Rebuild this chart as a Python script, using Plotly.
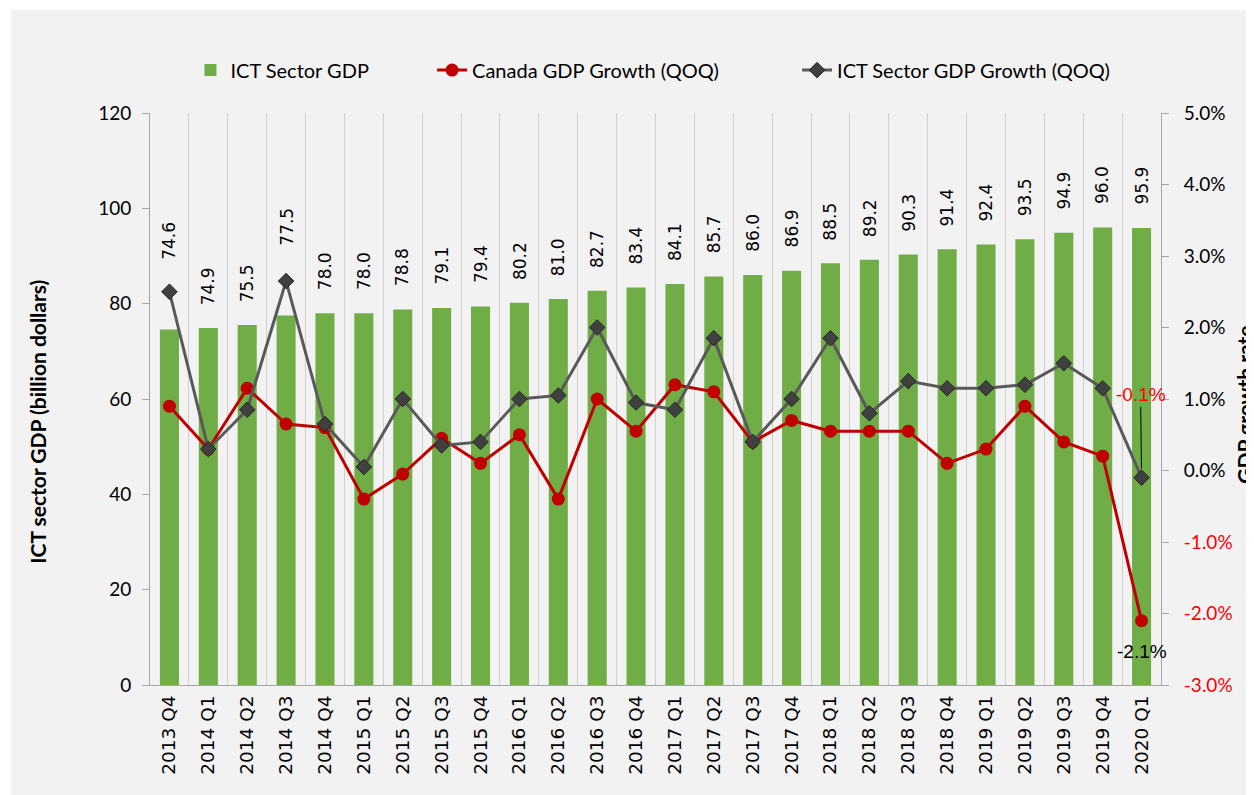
import plotly.graph_objects as go

quarters = ["2013 Q4", "2014 Q1", "2014 Q2", "2014 Q3", "2014 Q4", "2015 Q1", "2015 Q2",
            "2015 Q3", "2015 Q4", "2016 Q1", "2016 Q2", "2016 Q3", "2016 Q4", "2017 Q1",
            "2017 Q2", "2017 Q3", "2017 Q4", "2018 Q1", "2018 Q2", "2018 Q3", "2018 Q4",
            "2019 Q1", "2019 Q2", "2019 Q3", "2019 Q4", "2020 Q1"]

ict_gdp = [74.6, 74.9, 75.5, 77.5, 78.0, 78.0, 78.8, 79.1, 79.4, 80.2, 81.0, 82.7, 83.4,
           84.1, 85.7, 86.0, 86.9, 88.5, 89.2, 90.3, 91.4, 92.4, 93.5, 94.9, 96.0, 95.9]

canada_growth = [0.9, 0.3, 1.15, 0.65, 0.6, -0.4, -0.05, 0.45, 0.1, 0.5, -0.4, 1.0, 0.55,
                 1.2, 1.1, 0.4, 0.7, 0.55, 0.55, 0.55, 0.1, 0.3, 0.9, 0.4, 0.2, -2.1]

ict_growth = [2.5, 0.3, 0.85, 2.65, 0.65, 0.05, 1.0, 0.35, 0.4, 1.0, 1.05, 2.0, 0.95,
              0.85, 1.85, 0.4, 1.0, 1.85, 0.8, 1.25, 1.15, 1.15, 1.2, 1.5, 1.15, -0.1]

pct_ticks = [-3, -2, -1, 0, 1, 2, 3, 4, 5]

GREEN = "#70AD47"
RED = "#C00000"
GREY = "#595959"
BG = "#F2F2F2"
AXIS = "#A6A6A6"
TICK_FONT = "Lato, sans-serif"
LABEL_FONT = "DejaVu Sans, sans-serif"

# labels that were pushed up to clear the grey line
label_shift = {"2013 Q4": 68, "2014 Q3": 68}

fig = go.Figure()

fig.add_trace(go.Bar(
    x=quarters,
    y=ict_gdp,
    name="ICT Sector GDP",
    marker=dict(color=GREEN, line=dict(width=0)),
    width=0.49,
    legend="legend"
))

fig.add_trace(go.Scatter(
    x=quarters,
    y=canada_growth,
    mode="lines+markers",
    name="Canada GDP Growth (QOQ)",
    yaxis="y2",
    line=dict(color=RED, width=3),
    marker=dict(symbol="circle", size=13, color=RED),
    legend="legend2"
))

fig.add_trace(go.Scatter(
    x=quarters,
    y=ict_growth,
    mode="lines+markers",
    name="ICT Sector GDP Growth (QOQ)",
    yaxis="y2",
    line=dict(color=GREY, width=3),
    marker=dict(symbol="diamond", size=12, color="#404040", line=dict(color="#262626", width=1)),
    legend="legend3"
))

annotations = []
for q, v in zip(quarters, ict_gdp):
    annotations.append(dict(
        x=q, y=v, xref="x", yref="y",
        text=f"{v:.1f}", showarrow=False,
        textangle=-90, yanchor="bottom", xanchor="center",
        yshift=label_shift.get(q, 21),
        font=dict(family=LABEL_FONT, size=17, color="#000000")
    ))

annotations.append(dict(
    x=quarters[-1], y=ict_growth[-1], xref="x", yref="y2",
    text=f"{ict_growth[-1]:.1f}%", showarrow=True,
    arrowhead=0, arrowwidth=1, arrowcolor="#000000",
    ax=-1, ay=-83, standoff=9,
    font=dict(family="Liberation Sans, sans-serif", size=19, color="#FF0000")
))
annotations.append(dict(
    x=quarters[-1], y=canada_growth[-1], xref="x", yref="y2",
    text=f"{canada_growth[-1]:.1f}%", showarrow=False,
    yshift=-31, xshift=0,
    font=dict(family="Liberation Sans, sans-serif", size=19, color="#000000")
))

annotations.append(dict(
    x=-0.111, y=0.46, xref="paper", yref="paper",
    text="<b>ICT sector GDP (billion dollars)</b>", showarrow=False,
    textangle=-90, xanchor="center", yanchor="middle",
    font=dict(family=TICK_FONT, size=21, color="#000000")
))
annotations.append(dict(
    x=1.083, y=0.49, xref="paper", yref="paper",
    text="<b>GDP growth rate</b>", showarrow=False,
    textangle=-90, xanchor="center", yanchor="middle",
    font=dict(family=TICK_FONT, size=21, color="#000000")
))

pct_text = []
for t in pct_ticks:
    if t < 0:
        pct_text.append(f'<span style="color:#FF0000">{t:.1f}%</span>')
    else:
        pct_text.append(f"{t:.1f}%")

legend_style = dict(
    orientation="h", yanchor="middle", y=1.075, xanchor="left",
    bgcolor="rgba(0,0,0,0)", font=dict(family=TICK_FONT, size=20, color="#000000")
)

# the page body adds an 8px white border on the left and top
fig.update_layout(
    width=1246,
    height=787,
    paper_bgcolor=BG,
    plot_bgcolor=BG,
    margin=dict(l=142, r=93, t=105, b=110),
    bargap=0.51,
    showlegend=True,
    legend=dict(x=0.04, **legend_style),
    legend2=dict(x=0.279, **legend_style),
    legend3=dict(x=0.64, **legend_style),
    xaxis=dict(
        type="category",
        range=[-0.5, len(quarters) - 0.5],
        tickson="boundaries",
        showgrid=True,
        gridcolor="#D0D0D0",
        gridwidth=1,
        showline=True,
        linecolor=AXIS,
        linewidth=1,
        ticks="",
        tickangle=-90,
        ticklabelstandoff=2,
        tickfont=dict(family=LABEL_FONT, size=18.5, color="#000000")
    ),
    yaxis=dict(
        range=[0, 120],
        dtick=20,
        showgrid=False,
        zeroline=False,
        showline=True,
        linecolor=AXIS,
        linewidth=1,
        ticks="outside",
        ticklen=7,
        tickcolor=AXIS,
        ticklabelstandoff=7,
        tickfont=dict(family=TICK_FONT, size=19, color="#000000")
    ),
    yaxis2=dict(
        overlaying="y",
        side="right",
        range=[-3, 5],
        tickvals=pct_ticks,
        ticktext=pct_text,
        showgrid=False,
        zeroline=False,
        showline=True,
        linecolor=AXIS,
        linewidth=1,
        ticks="outside",
        ticklen=7,
        tickcolor=AXIS,
        ticklabelstandoff=11,
        tickfont=dict(family=TICK_FONT, size=19, color="#000000")
    ),
    annotations=annotations,
    shapes=[
        dict(type="rect", xref="paper", yref="paper", x0=-0.1405, x1=-0.1375,
             y0=-0.1923, y1=1.1836, fillcolor="#FFFFFF", line=dict(width=0), layer="below"),
        dict(type="rect", xref="paper", yref="paper", x0=-0.1405, x1=1.092,
             y0=1.1801, y1=1.1836, fillcolor="#FFFFFF", line=dict(width=0), layer="below"),
    ]
)

fig.write_html("out.html")
